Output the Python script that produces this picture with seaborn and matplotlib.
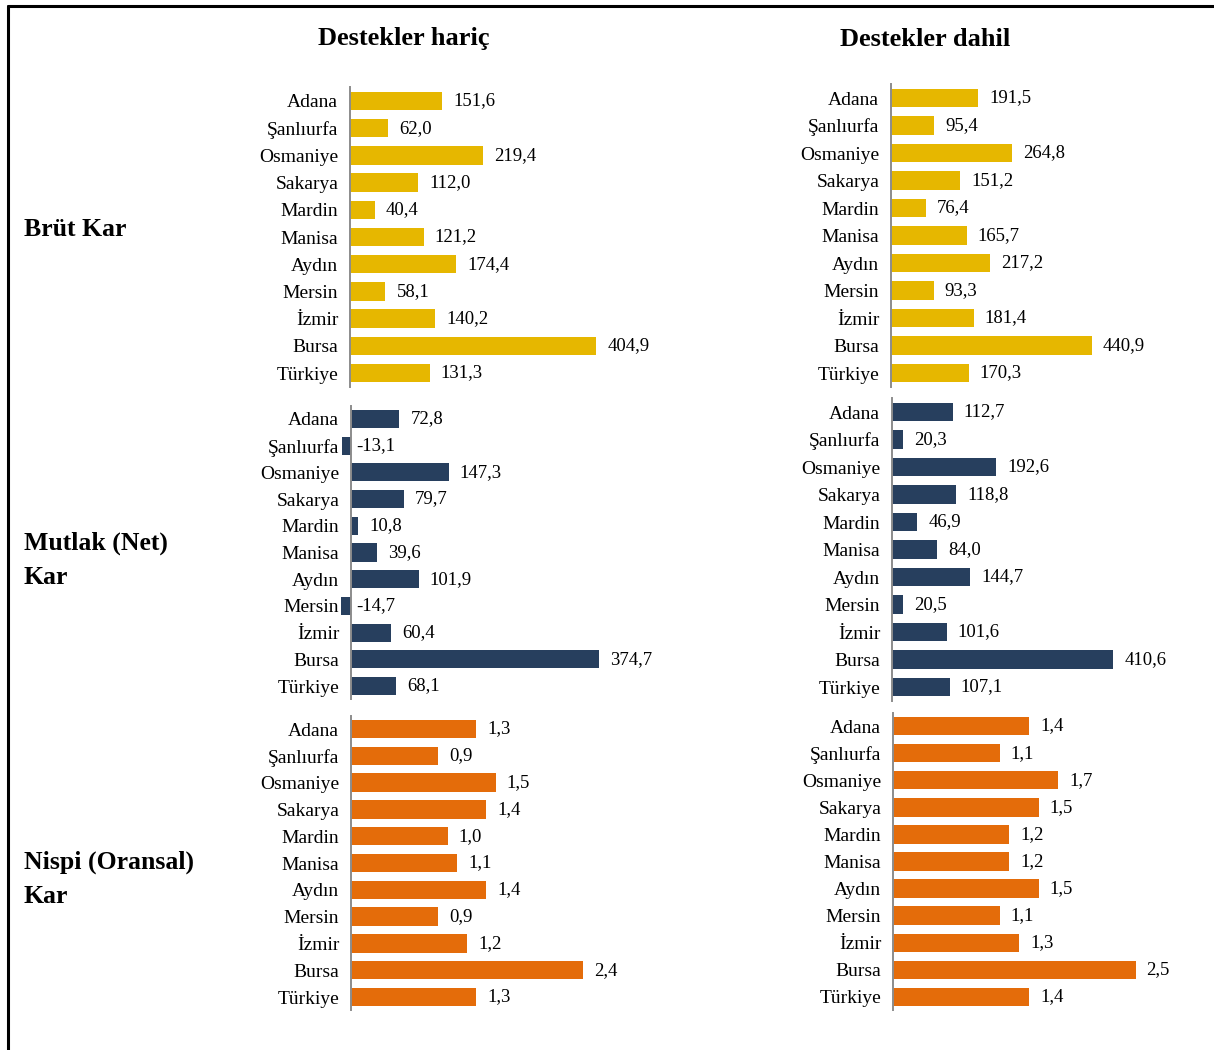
import matplotlib
matplotlib.use("Agg")
import matplotlib.pyplot as plt
import seaborn as sns
import pandas as pd
from matplotlib.lines import Line2D

sns.set_style("white")
plt.rcParams["font.family"] = ["Liberation Serif", "DejaVu Serif"]
plt.rcParams["text.color"] = "black"
plt.rcParams["ytick.color"] = "black"

cities = ["Adana", "Şanlıurfa", "Osmaniye", "Sakarya", "Mardin", "Manisa",
          "Aydın", "Mersin", "İzmir", "Bursa", "Türkiye"]

brut_haric = [151.6, 62.0, 219.4, 112.0, 40.4, 121.2, 174.4, 58.1, 140.2, 404.9, 131.3]
brut_dahil = [191.5, 95.4, 264.8, 151.2, 76.4, 165.7, 217.2, 93.3, 181.4, 440.9, 170.3]
net_haric = [72.8, -13.1, 147.3, 79.7, 10.8, 39.6, 101.9, -14.7, 60.4, 374.7, 68.1]
net_dahil = [112.7, 20.3, 192.6, 118.8, 46.9, 84.0, 144.7, 20.5, 101.6, 410.6, 107.1]
nispi_haric = [1.3, 0.9, 1.5, 1.4, 1.0, 1.1, 1.4, 0.9, 1.2, 2.4, 1.3]
nispi_dahil = [1.4, 1.1, 1.7, 1.5, 1.2, 1.2, 1.5, 1.1, 1.3, 2.5, 1.4]

col_titles = ["Destekler hariç", "Destekler dahil"]
row_titles = ["Brüt Kar", "Mutlak (Net)\nKar", "Nispi (Oransal)\nKar"]

W, H = 1214, 1050
fig = plt.figure(figsize=(W / 100, H / 100), dpi=100)

# panel layout in pixels: spine x, top y, bottom y, px per unit, right edge, colour
panels = [
    (brut_haric, 350, 87.4, 386.6, 0.6076, 680, "#E6B700"),
    (brut_dahil, 891, 84.3, 386.8, 0.4559, 1200, "#E6B700"),
    (net_haric, 351, 405.6, 699.4, 0.663, 680, "#273F5E"),
    (net_dahil, 892, 398.3, 700.8, 0.539, 1200, "#273F5E"),
    (nispi_haric, 351, 715.6, 1010.4, 96.5, 680, "#E46C0A"),
    (nispi_dahil, 893, 712.5, 1010.5, 97.0, 1200, "#E46C0A"),
]

for vals, sx, top, bot, sc, right, col in panels:
    left = sx - 20
    ax = fig.add_axes([left / W, 1 - bot / H, (right - left) / W, (bot - top) / H])
    df = pd.DataFrame({"city": cities, "v": vals})
    sns.barplot(data=df, x="v", y="city", color=col, width=0.68, ax=ax,
                saturation=1, edgecolor="none", orient="h")
    ax.set_xlim(-20 / sc, (right - sx) / sc)
    ax.set_ylim(10.5, -0.5)
    for s in ["top", "right", "bottom"]:
        ax.spines[s].set_visible(False)
    ax.spines["left"].set_position(("data", 0))
    ax.spines["left"].set_color("#8c8c8c")
    ax.spines["left"].set_linewidth(1.4)
    ax.set_xticks([])
    ax.set_xlabel("")
    ax.set_ylabel("")
    ax.tick_params(axis="y", length=0, pad=8.5, labelsize=14, labelcolor="black")
    ax.patch.set_alpha(0)
    for i, v in enumerate(vals):
        off = 8 if v >= 0 else 3.5
        ax.annotate(f"{v:.1f}".replace(".", ","), (max(v, 0), i),
                    xytext=(off, 0), textcoords="offset points",
                    va="center", ha="left", fontsize=13.5, color="black")

fig.text(404 / W, 1 - 39 / H, col_titles[0], ha="center", va="center",
         fontsize=19, fontweight="bold")
fig.text(925 / W, 1 - 39 / H, col_titles[1], ha="center", va="center",
         fontsize=19, fontweight="bold")
for t, y in zip(row_titles, [229, 560, 879]):
    fig.text(24 / W, 1 - y / H, t, ha="left", va="center", fontsize=18.5,
             fontweight="bold", linespacing=1.6)

fig.add_artist(Line2D([8 / W, 1], [1 - 6 / H, 1 - 6 / H], color="black", lw=2.2))
fig.add_artist(Line2D([8 / W, 8 / W], [0, 1 - 6 / H], color="black", lw=2.2))

fig.savefig("out.png", dpi=100)
